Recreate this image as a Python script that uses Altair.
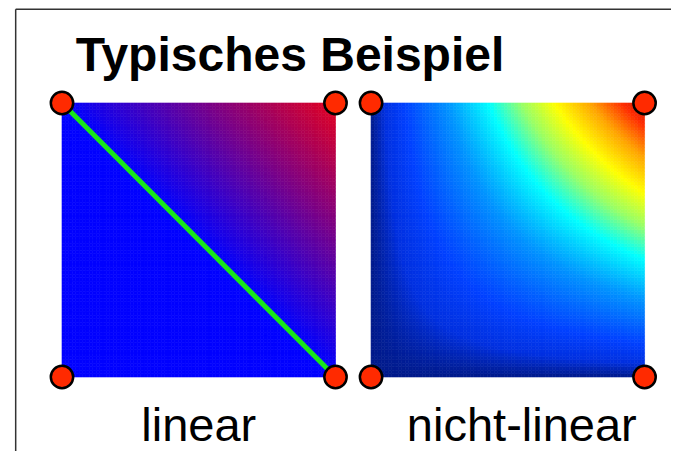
import numpy as np
import pandas as pd
import altair as alt

# ---- data ----
title_text = "Typisches Beispiel"
panel_labels = ["linear", "nicht-linear"]
corner_names = ["BL", "BR", "TL", "TR"]
corner_u = [0, 1, 0, 1]
corner_v = [0, 0, 1, 1]
left_corner_values = [0.0, 0.0, 0.0, 1.0]
right_corner_values = [0.0, 0.0, 0.0, 1.0]
left_colors = ["#0000ff", "#e4001e"]
right_stops = [0.0, 0.05, 0.12, 0.28, 0.43, 0.55, 0.67, 0.80, 0.92, 1.0]
right_colors = ["#001a8a", "#0030e0", "#0040ff", "#0094ff", "#00ffff",
                "#99ff66", "#ffff00", "#ffa500", "#ff2a00", "#c81e00"]

# ---- layout (data units: one square = 1) ----
N = 80
W, H = 663, 443
right_offset = 1.13
x_dom = [-0.1974, (W - 54) / 273.5]
y_dom = [-(H - 369) / 274, 1.3467]
frame_x = -0.1693
frame_y = 1.342

cv = dict(zip(corner_names, left_corner_values))
rv = dict(zip(corner_names, right_corner_values))

edges = np.arange(N + 1) / N
cent = (np.arange(N) + 0.5) / N
U, V = np.meshgrid(cent, cent)
I, J = np.meshgrid(np.arange(N), np.arange(N))

# linear (triangulated along TL-BR diagonal)
lower = U + V <= 1
f_left = np.where(
    lower,
    cv["BL"] + (cv["BR"] - cv["BL"]) * U + (cv["TL"] - cv["BL"]) * V,
    cv["TR"] + (cv["TL"] - cv["TR"]) * (1 - U) + (cv["BR"] - cv["TR"]) * (1 - V),
)
# bilinear (nicht-linear)
f_right = (rv["BL"] * (1 - U) * (1 - V) + rv["BR"] * U * (1 - V)
           + rv["TL"] * (1 - U) * V + rv["TR"] * U * V)

def grid(f, off):
    return pd.DataFrame({
        "x": (edges[I] + off).ravel(),
        "x2": (edges[I + 1] + off).ravel(),
        "y": edges[J].ravel(),
        "y2": edges[J + 1].ravel(),
        "v": f.ravel(),
    })

left_df = grid(f_left, 0.0)
right_df = grid(f_right, right_offset)

xs = alt.Scale(domain=x_dom, nice=False, zero=False)
ys = alt.Scale(domain=y_dom, nice=False, zero=False)

lscale = alt.Scale(domain=[0, 1], range=left_colors, interpolate="rgb")
rscale = alt.Scale(domain=right_stops, range=right_colors, interpolate="rgb")

def raster(df, sc):
    return alt.Chart(df).mark_rect(strokeWidth=0.6).encode(
        x=alt.X("x:Q", scale=xs, axis=None),
        x2="x2",
        y=alt.Y("y:Q", scale=ys, axis=None),
        y2="y2",
        color=alt.Color("v:Q", scale=sc, legend=None),
        stroke=alt.Stroke("v:Q", scale=sc, legend=None),
    )

left_layer = raster(left_df, lscale)
right_layer = raster(right_df, rscale)

# diagonal (triangulation edge) TL -> BR of left square
diag_df = pd.DataFrame({
    "x": [corner_u[2], corner_u[1]],
    "y": [corner_v[2], corner_v[1]],
    "o": [0, 1],
})
diag = alt.Chart(diag_df).mark_line(color="#19e619", strokeWidth=5).encode(
    x=alt.X("x:Q", scale=xs, axis=None),
    y=alt.Y("y:Q", scale=ys, axis=None),
    order="o:Q",
)

# corner nodes
nodes_df = pd.DataFrame({
    "x": corner_u + [u + right_offset for u in corner_u],
    "y": corner_v + corner_v,
})
nodes = alt.Chart(nodes_df).mark_circle(
    color="#ff2a00", stroke="black", strokeWidth=2.5, size=500, opacity=1
).encode(
    x=alt.X("x:Q", scale=xs, axis=None),
    y=alt.Y("y:Q", scale=ys, axis=None),
)

# title
title_df = pd.DataFrame({"t": [title_text], "x": [0.05], "y": [1.118]})
title = alt.Chart(title_df).mark_text(
    align="left", baseline="alphabetic", font="Liberation Sans",
    fontWeight="bold", fontSize=48, color="black"
).encode(
    x=alt.X("x:Q", scale=xs, axis=None),
    y=alt.Y("y:Q", scale=ys, axis=None),
    text="t:N",
)

def label(txt, cx, dx):
    d = pd.DataFrame({"t": [txt], "x": [cx], "y": [-0.2336]})
    return alt.Chart(d).mark_text(
        align="center", baseline="alphabetic", font="Liberation Sans",
        fontSize=47, color="black", dx=dx
    ).encode(
        x=alt.X("x:Q", scale=xs, axis=None),
        y=alt.Y("y:Q", scale=ys, axis=None),
        text="t:N",
    )

lab1 = label(panel_labels[0], 0.5, 0)
lab2 = label(panel_labels[1], right_offset + 0.5, 14)

# frame (top and left edges of the surrounding box)
frame_df = pd.DataFrame({
    "x": [frame_x, frame_x],
    "x2": [x_dom[1], frame_x],
    "y": [frame_y, y_dom[0]],
    "y2": [frame_y, frame_y],
})
frame = alt.Chart(frame_df).mark_rule(color="#333333", strokeWidth=1.5).encode(
    x=alt.X("x:Q", scale=xs, axis=None),
    x2="x2",
    y=alt.Y("y:Q", scale=ys, axis=None),
    y2="y2",
)

chart = alt.layer(
    frame, left_layer, right_layer, diag, nodes, title, lab1, lab2
).resolve_scale(
    color="independent", stroke="independent"
).properties(
    width=W, height=H, autosize="none", padding=0
).configure_view(stroke=None)

chart.save("out.html", embed_options={"renderer": "svg", "actions": False})
